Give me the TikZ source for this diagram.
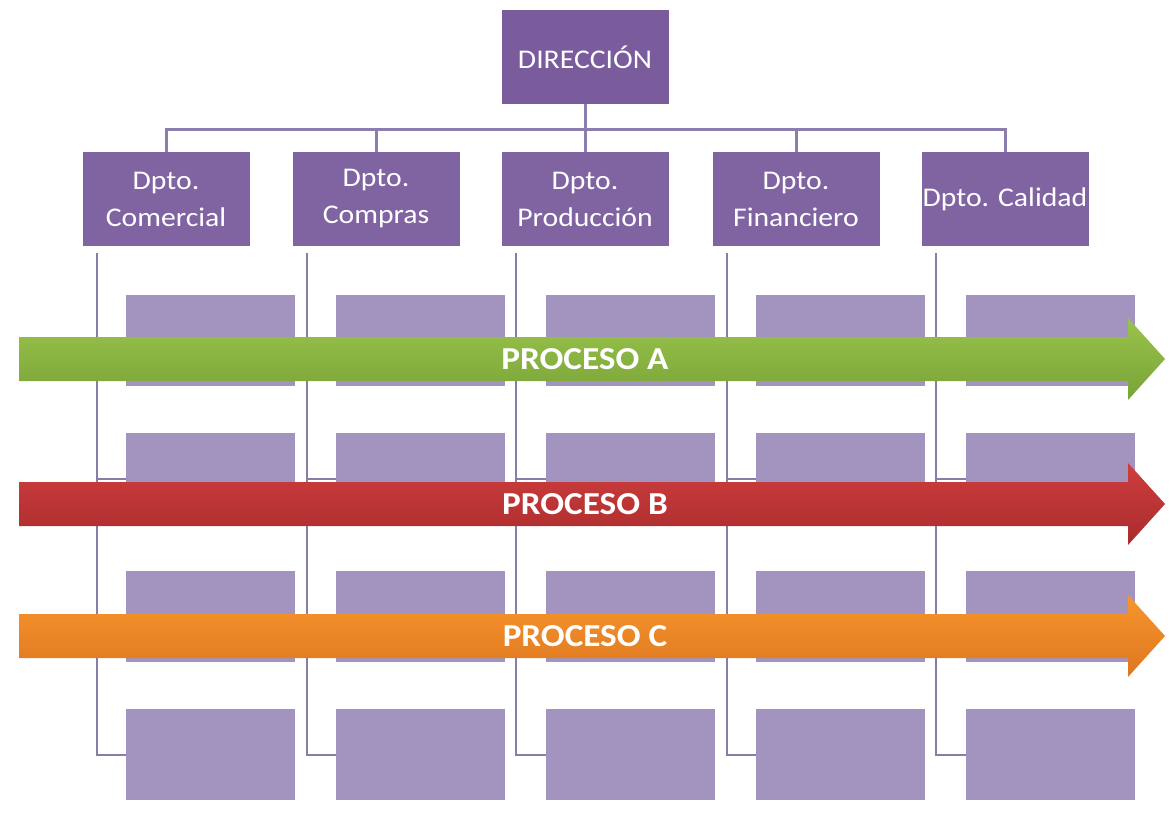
\documentclass[tikz,border=0pt]{standalone}
\usepackage{fontspec}
\setmainfont{Carlito}[FakeStretch=1.1]
\usetikzlibrary{positioning, calc}

\definecolor{dirpurple}{HTML}{7A5C9D}
\definecolor{dptpurple}{HTML}{8064A2}
\definecolor{subpurple}{HTML}{A294BE}
\definecolor{linepurple}{HTML}{8B7DAE}
\definecolor{greentop}{HTML}{9AC34C}
\definecolor{greenbot}{HTML}{78A337}
\definecolor{redtop}{HTML}{CE3D3D}
\definecolor{redbot}{HTML}{AA2C2E}
\definecolor{orangetop}{HTML}{F7962D}
\definecolor{orangebot}{HTML}{DE7620}

\tikzset{
  dirbox/.style={fill=dirpurple, text=white, minimum width=167pt, minimum height=94pt,
    inner sep=1pt, font=\fontsize{27}{32}\selectfont},
  dptbox/.style={fill=dptpurple, text=white, minimum width=167pt, minimum height=94pt,
    inner sep=1pt, align=center, font=\fontsize{27}{37}\selectfont},
  subbox/.style={fill=subpurple, minimum width=169pt, minimum height=91pt, inner sep=0pt},
  busline/.style={draw=linepurple, line width=3pt},
  colline/.style={draw=linepurple!85!gray, line width=2pt},
  proctext/.style={text=white, font=\bfseries\fontsize{32}{38}\selectfont}
}

\begin{document}
\begin{tikzpicture}[x=1pt, y=-1pt]
    \useasboundingbox (0,0) rectangle (1174,819);

    % Top of the chart and the departments
    \node[dirbox] (dir) at (585,57) {DIRECCIÓN};
    \node[dptbox] (d1) at (166,199) {Dpto.\\Comercial};
    \node[dptbox] (d2) at (376,199) {Dpto.\\Compras};
    \node[dptbox] (d3) at (585,199) {Dpto.\\Producción};
    \node[dptbox] (d4) at (796,199) {Dpto.\\Financiero};
    \node[dptbox] (d5) at (1005,199) {Dpto. Calidad};

    % Connect the direction with every department
    \foreach \i in {1,...,5}
        \draw[busline] (dir.south) -- ++(0,25) -| (d\i.north);

    % Tasks of every department
    \foreach \i in {1,...,5}
        \foreach \j in {1,...,4}
            \node[subbox] (s\i\j) at ({210.5+210*(\i-1)},{340.5+138*(\j-1)}) {};

    \foreach \i in {1,...,5}
        \foreach \j in {1,...,4}
            \draw[colline] ($(d\i.south west)+(14.5,7)$) |- (s\i\j.west);

    % Processes crossing the departments
    \foreach \y/\ctop/\cbot/\name in {359/greentop/greenbot/A, 504/redtop/redbot/B, 636/orangetop/orangebot/C} {
        \shade[top color=\ctop, bottom color=\cbot]
            (19,{\y-22}) -- (1128,{\y-22}) -- (1128,{\y-41}) -- (1165,\y)
            -- (1128,{\y+41}) -- (1128,{\y+22}) -- (19,{\y+22}) -- cycle;
        \node[proctext] (p\name) at (585,\y) {PROCESO \name};
    }

\end{tikzpicture}
\end{document}
